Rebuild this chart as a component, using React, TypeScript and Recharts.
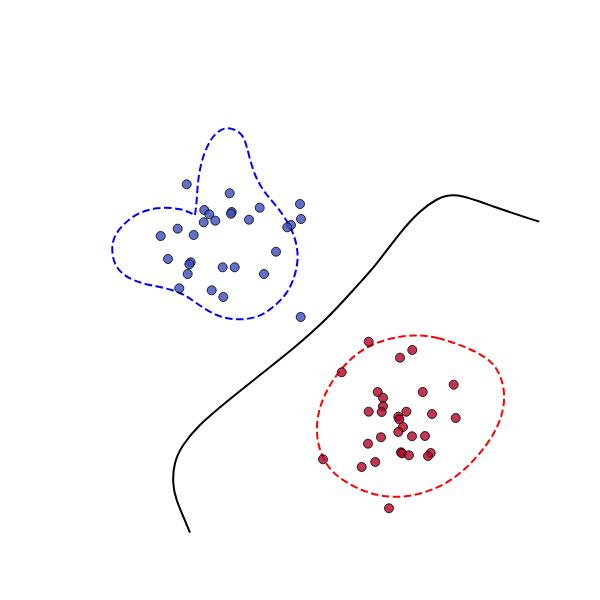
import { ScatterChart, Scatter, XAxis, YAxis } from 'recharts';

// class 0 (blue) samples
const bluePoints = [
  { x: 1.117, y: 3.497 }, { x: 1.547, y: 3.407 }, { x: 2.25, y: 3.3 },
  { x: 1.293, y: 3.24 }, { x: 1.343, y: 3.197 }, { x: 1.567, y: 3.22 },
  { x: 1.56, y: 3.203 }, { x: 1.847, y: 3.263 }, { x: 1.74, y: 3.143 },
  { x: 1.403, y: 3.133 }, { x: 1.287, y: 3.117 }, { x: 2.26, y: 3.15 },
  { x: 2.16, y: 3.09 }, { x: 2.123, y: 3.067 }, { x: 1.027, y: 3.053 },
  { x: 0.857, y: 2.98 }, { x: 1.187, y: 2.99 }, { x: 2.01, y: 2.823 },
  { x: 0.93, y: 2.75 }, { x: 1.157, y: 2.717 }, { x: 1.143, y: 2.697 },
  { x: 1.477, y: 2.667 }, { x: 1.597, y: 2.667 }, { x: 1.127, y: 2.6 },
  { x: 1.89, y: 2.6 }, { x: 1.043, y: 2.457 }, { x: 1.367, y: 2.437 },
  { x: 1.483, y: 2.37 }, { x: 2.257, y: 2.17 },
];

// class 1 (red) samples
const redPoints = [
  { x: 2.937, y: 1.923 }, { x: 3.373, y: 1.84 }, { x: 3.25, y: 1.763 },
  { x: 2.667, y: 1.617 }, { x: 3.787, y: 1.493 }, { x: 3.027, y: 1.42 },
  { x: 3.08, y: 1.363 }, { x: 3.477, y: 1.42 }, { x: 3.08, y: 1.277 },
  { x: 3.067, y: 1.22 }, { x: 2.937, y: 1.223 }, { x: 3.313, y: 1.223 },
  { x: 3.57, y: 1.2 }, { x: 3.233, y: 1.173 }, { x: 3.243, y: 1.147 },
  { x: 3.807, y: 1.16 }, { x: 3.28, y: 1.07 }, { x: 3.233, y: 1.02 },
  { x: 3.06, y: 0.967 }, { x: 3.37, y: 0.977 }, { x: 3.5, y: 0.98 },
  { x: 2.93, y: 0.903 }, { x: 3.26, y: 0.817 }, { x: 3.27, y: 0.807 },
  { x: 3.34, y: 0.787 }, { x: 3.557, y: 0.81 }, { x: 3.53, y: 0.78 },
  { x: 2.48, y: 0.747 }, { x: 3.003, y: 0.72 }, { x: 2.867, y: 0.67 },
  { x: 3.14, y: 0.257 },
];

// decision boundary
const boundary = [
  { x: 1.15, y: 0.013 }, { x: 1.083, y: 0.173 }, { x: 1.017, y: 0.34 },
  { x: 0.983, y: 0.507 }, { x: 1.0, y: 0.707 }, { x: 1.083, y: 0.89 },
  { x: 1.25, y: 1.09 }, { x: 1.517, y: 1.323 }, { x: 1.85, y: 1.59 },
  { x: 2.183, y: 1.857 }, { x: 2.517, y: 2.157 }, { x: 2.783, y: 2.44 },
  { x: 3.017, y: 2.707 }, { x: 3.25, y: 3.007 }, { x: 3.45, y: 3.223 },
  { x: 3.62, y: 3.345 }, { x: 3.83, y: 3.385 }, { x: 4.2, y: 3.27 },
  { x: 4.643, y: 3.123 },
];

// density contour, class 0 (starts and ends at the notch)
const blueContour = [
  { x: 1.2, y: 3.19 }, { x: 1.217, y: 3.34 }, { x: 1.233, y: 3.54 },
  { x: 1.283, y: 3.773 }, { x: 1.383, y: 3.973 }, { x: 1.517, y: 4.057 },
  { x: 1.65, y: 4.007 }, { x: 1.717, y: 3.873 }, { x: 1.783, y: 3.64 },
  { x: 1.883, y: 3.44 }, { x: 2.017, y: 3.273 }, { x: 2.15, y: 3.073 },
  { x: 2.217, y: 2.873 }, { x: 2.217, y: 2.673 }, { x: 2.133, y: 2.44 },
  { x: 1.983, y: 2.273 }, { x: 1.817, y: 2.173 }, { x: 1.617, y: 2.147 },
  { x: 1.417, y: 2.19 }, { x: 1.217, y: 2.307 }, { x: 1.017, y: 2.423 },
  { x: 0.75, y: 2.49 }, { x: 0.55, y: 2.557 }, { x: 0.417, y: 2.673 },
  { x: 0.373, y: 2.84 }, { x: 0.417, y: 3.007 }, { x: 0.583, y: 3.173 },
  { x: 0.817, y: 3.257 }, { x: 1.05, y: 3.247 }, { x: 1.2, y: 3.19 },
];

// density contour, class 1 (closed curve)
const redContour = [
  { x: 3.317, y: 2.0 }, { x: 3.62, y: 1.975 }, { x: 3.95, y: 1.855 },
  { x: 4.205, y: 1.72 }, { x: 4.31, y: 1.44 }, { x: 4.275, y: 1.16 },
  { x: 4.13, y: 0.895 }, { x: 3.89, y: 0.625 }, { x: 3.63, y: 0.45 },
  { x: 3.283, y: 0.355 }, { x: 2.975, y: 0.385 }, { x: 2.675, y: 0.525 },
  { x: 2.49, y: 0.7 }, { x: 2.405, y: 0.973 }, { x: 2.43, y: 1.24 },
  { x: 2.535, y: 1.48 }, { x: 2.71, y: 1.72 }, { x: 2.95, y: 1.905 },
];

const noDot = () => <g />;

export default function App() {
  return (
    <ScatterChart
      width={584}
      height={584}
      margin={{ top: 64, right: 52, bottom: 58, left: 67 }}
    >
      <XAxis type="number" dataKey="x" domain={[0, 4.65]} allowDataOverflow hide />
      <YAxis type="number" dataKey="y" domain={[0, 4.62]} allowDataOverflow hide />
      <Scatter
        data={boundary}
        line={{ stroke: '#000', strokeWidth: 2 }}
        lineJointType="natural"
        shape={noDot}
        isAnimationActive={false}
      />
      <Scatter
        data={blueContour}
        line={{ stroke: '#0000ff', strokeWidth: 2, strokeDasharray: '7.5 3.5' }}
        lineJointType="natural"
        shape={noDot}
        isAnimationActive={false}
      />
      <Scatter
        data={redContour}
        line={{ stroke: '#ff0000', strokeWidth: 2, strokeDasharray: '7.5 3.5' }}
        lineJointType="basisClosed"
        shape={noDot}
        isAnimationActive={false}
      />
      <Scatter
        data={bluePoints}
        fill="#3b4cc0"
        fillOpacity={0.8}
        stroke="#000"
        strokeOpacity={0.8}
        strokeWidth={1}
        isAnimationActive={false}
      />
      <Scatter
        data={redPoints}
        fill="#b40426"
        fillOpacity={0.8}
        stroke="#000"
        strokeOpacity={0.8}
        strokeWidth={1}
        isAnimationActive={false}
      />
    </ScatterChart>
  );
}
